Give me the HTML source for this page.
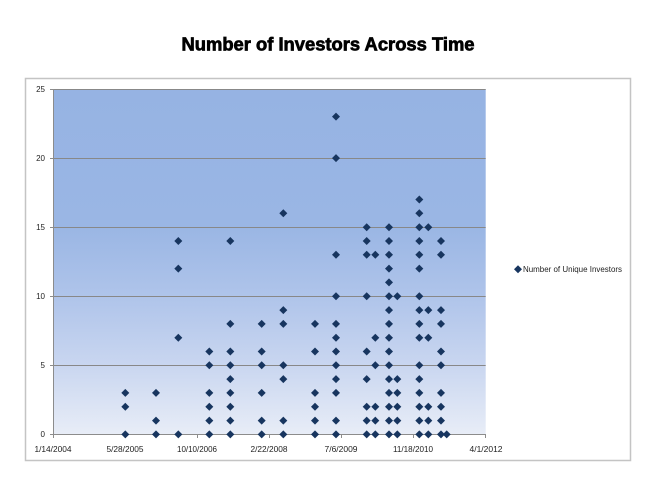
<!DOCTYPE html>
<html><head><meta charset="utf-8"><style>
html,body{margin:0;padding:0;background:#fff;}
svg{display:block;}
</style></head><body>
<svg width="656" height="479" viewBox="0 0 656 479" xmlns="http://www.w3.org/2000/svg">
<defs>
<linearGradient id="bg" x1="0" y1="0" x2="0" y2="1">
<stop offset="0" stop-color="#96B3E3"/>
<stop offset="0.4" stop-color="#9AB6E4"/>
<stop offset="0.6" stop-color="#AFC4EA"/>
<stop offset="0.8" stop-color="#C9D6F0"/>
<stop offset="1" stop-color="#E8EDF7"/>
</linearGradient>
<path id="m" d="M0,-4 L4,0 L0,4 L-4,0 Z" fill="#17355F"/>
</defs>
<rect x="0" y="0" width="656" height="479" fill="#fff"/>
<text x="328" y="50.5" text-anchor="middle" font-family="Liberation Sans, sans-serif" font-weight="bold" font-size="18" textLength="293" lengthAdjust="spacingAndGlyphs" fill="#000" stroke="#000" stroke-width="0.7">Number of Investors Across Time</text>
<rect x="25.5" y="78.5" width="605" height="382" fill="none" stroke="#C4C4C4" stroke-width="1.5"/>
<rect x="53" y="89" width="432.7" height="345.4" fill="url(#bg)"/>
<g stroke="#888" stroke-width="1">
<line x1="53" y1="89.5" x2="485.7" y2="89.5"/>
<line x1="53" y1="158.5" x2="485.7" y2="158.5"/>
<line x1="53" y1="227.5" x2="485.7" y2="227.5"/>
<line x1="53" y1="296.5" x2="485.7" y2="296.5"/>
<line x1="53" y1="365.5" x2="485.7" y2="365.5"/>
</g>
<g stroke="#8C8C8C" stroke-width="1">
<line x1="53.5" y1="89" x2="53.5" y2="435"/>
<line x1="50" y1="434.5" x2="486" y2="434.5"/>
<line x1="50" y1="89.5" x2="53" y2="89.5"/>
<line x1="50" y1="158.5" x2="53" y2="158.5"/>
<line x1="50" y1="227.5" x2="53" y2="227.5"/>
<line x1="50" y1="296.5" x2="53" y2="296.5"/>
<line x1="50" y1="365.5" x2="53" y2="365.5"/>
<line x1="53.5" y1="434" x2="53.5" y2="438"/>
<line x1="125.5" y1="434" x2="125.5" y2="438"/>
<line x1="197.5" y1="434" x2="197.5" y2="438"/>
<line x1="269.5" y1="434" x2="269.5" y2="438"/>
<line x1="341.5" y1="434" x2="341.5" y2="438"/>
<line x1="413.5" y1="434" x2="413.5" y2="438"/>
<line x1="485.5" y1="434" x2="485.5" y2="438"/>
</g>
<g font-family="Liberation Sans, sans-serif" font-size="8" fill="#222" text-anchor="end">
<text x="45" y="92">25</text>
<text x="45" y="161">20</text>
<text x="45" y="230">15</text>
<text x="45" y="299">10</text>
<text x="45" y="368">5</text>
<text x="45" y="437">0</text>
</g>
<g font-family="Liberation Sans, sans-serif" font-size="8" fill="#222" text-anchor="middle">
<text x="53" y="452" textLength="37" lengthAdjust="spacingAndGlyphs">1/14/2004</text>
<text x="125" y="452" textLength="37" lengthAdjust="spacingAndGlyphs">5/28/2005</text>
<text x="197" y="452" textLength="40" lengthAdjust="spacingAndGlyphs">10/10/2006</text>
<text x="269" y="452" textLength="37" lengthAdjust="spacingAndGlyphs">2/22/2008</text>
<text x="341" y="452" textLength="33" lengthAdjust="spacingAndGlyphs">7/6/2009</text>
<text x="413" y="452" textLength="40" lengthAdjust="spacingAndGlyphs">11/18/2010</text>
<text x="486" y="452" textLength="33" lengthAdjust="spacingAndGlyphs">4/1/2012</text>
</g>
<use href="#m" x="518" y="269.3"/>
<text x="523" y="272" font-family="Liberation Sans, sans-serif" font-size="8" fill="#222" textLength="99" lengthAdjust="spacingAndGlyphs">Number of Unique Investors</text>
<g>
<use href="#m" x="125.3" y="434.4"/><use href="#m" x="125.3" y="406.8"/><use href="#m" x="125.3" y="392.9"/>
<use href="#m" x="156" y="434.4"/><use href="#m" x="156" y="420.6"/><use href="#m" x="156" y="392.9"/>
<use href="#m" x="178.3" y="434.4"/><use href="#m" x="178.3" y="337.7"/><use href="#m" x="178.3" y="268.6"/><use href="#m" x="178.3" y="241"/>
<use href="#m" x="209.3" y="434.4"/><use href="#m" x="209.3" y="420.6"/><use href="#m" x="209.3" y="406.8"/><use href="#m" x="209.3" y="392.9"/><use href="#m" x="209.3" y="365.3"/><use href="#m" x="209.3" y="351.5"/>
<use href="#m" x="230.3" y="434.4"/><use href="#m" x="230.3" y="420.6"/><use href="#m" x="230.3" y="406.8"/><use href="#m" x="230.3" y="392.9"/><use href="#m" x="230.3" y="379.1"/><use href="#m" x="230.3" y="365.3"/><use href="#m" x="230.3" y="351.5"/><use href="#m" x="230.3" y="323.9"/><use href="#m" x="230.3" y="241"/>
<use href="#m" x="261.7" y="434.4"/><use href="#m" x="261.7" y="420.6"/><use href="#m" x="261.7" y="392.9"/><use href="#m" x="261.7" y="365.3"/><use href="#m" x="261.7" y="351.5"/><use href="#m" x="261.7" y="323.9"/>
<use href="#m" x="283.3" y="434.4"/><use href="#m" x="283.3" y="420.6"/><use href="#m" x="283.3" y="379.1"/><use href="#m" x="283.3" y="365.3"/><use href="#m" x="283.3" y="323.9"/><use href="#m" x="283.3" y="310.1"/><use href="#m" x="283.3" y="213.3"/>
<use href="#m" x="315" y="434.4"/><use href="#m" x="315" y="420.6"/><use href="#m" x="315" y="406.8"/><use href="#m" x="315" y="392.9"/><use href="#m" x="315" y="351.5"/><use href="#m" x="315" y="323.9"/>
<use href="#m" x="336" y="434.4"/><use href="#m" x="336" y="420.6"/><use href="#m" x="336" y="392.9"/><use href="#m" x="336" y="379.1"/><use href="#m" x="336" y="365.3"/><use href="#m" x="336" y="351.5"/><use href="#m" x="336" y="337.7"/><use href="#m" x="336" y="323.9"/><use href="#m" x="336" y="296.2"/><use href="#m" x="336" y="254.8"/><use href="#m" x="336" y="158.1"/><use href="#m" x="336" y="116.6"/>
<use href="#m" x="366.7" y="434.4"/><use href="#m" x="366.7" y="420.6"/><use href="#m" x="366.7" y="406.8"/><use href="#m" x="366.7" y="379.1"/><use href="#m" x="366.7" y="351.5"/><use href="#m" x="366.7" y="296.2"/><use href="#m" x="366.7" y="254.8"/><use href="#m" x="366.7" y="241"/><use href="#m" x="366.7" y="227.2"/>
<use href="#m" x="375.3" y="434.4"/><use href="#m" x="375.3" y="420.6"/><use href="#m" x="375.3" y="406.8"/><use href="#m" x="375.3" y="365.3"/><use href="#m" x="375.3" y="337.7"/><use href="#m" x="375.3" y="254.8"/>
<use href="#m" x="389" y="434.4"/><use href="#m" x="389" y="420.6"/><use href="#m" x="389" y="406.8"/><use href="#m" x="389" y="392.9"/><use href="#m" x="389" y="379.1"/><use href="#m" x="389" y="365.3"/><use href="#m" x="389" y="351.5"/><use href="#m" x="389" y="337.7"/><use href="#m" x="389" y="323.9"/><use href="#m" x="389" y="310.1"/><use href="#m" x="389" y="296.2"/><use href="#m" x="389" y="282.4"/><use href="#m" x="389" y="268.6"/><use href="#m" x="389" y="254.8"/><use href="#m" x="389" y="241"/><use href="#m" x="389" y="227.2"/>
<use href="#m" x="397.3" y="434.4"/><use href="#m" x="397.3" y="420.6"/><use href="#m" x="397.3" y="406.8"/><use href="#m" x="397.3" y="392.9"/><use href="#m" x="397.3" y="379.1"/><use href="#m" x="397.3" y="296.2"/>
<use href="#m" x="419.3" y="434.4"/><use href="#m" x="419.3" y="420.6"/><use href="#m" x="419.3" y="406.8"/><use href="#m" x="419.3" y="392.9"/><use href="#m" x="419.3" y="379.1"/><use href="#m" x="419.3" y="365.3"/><use href="#m" x="419.3" y="337.7"/><use href="#m" x="419.3" y="323.9"/><use href="#m" x="419.3" y="310.1"/><use href="#m" x="419.3" y="296.2"/><use href="#m" x="419.3" y="268.6"/><use href="#m" x="419.3" y="254.8"/><use href="#m" x="419.3" y="241"/><use href="#m" x="419.3" y="227.2"/><use href="#m" x="419.3" y="213.3"/><use href="#m" x="419.3" y="199.5"/>
<use href="#m" x="428.3" y="434.4"/><use href="#m" x="428.3" y="420.6"/><use href="#m" x="428.3" y="406.8"/><use href="#m" x="428.3" y="337.7"/><use href="#m" x="428.3" y="310.1"/><use href="#m" x="428.3" y="227.2"/>
<use href="#m" x="441" y="434.4"/><use href="#m" x="441" y="420.6"/><use href="#m" x="441" y="406.8"/><use href="#m" x="441" y="392.9"/><use href="#m" x="441" y="365.3"/><use href="#m" x="441" y="351.5"/><use href="#m" x="441" y="323.9"/><use href="#m" x="441" y="310.1"/><use href="#m" x="441" y="254.8"/><use href="#m" x="441" y="241"/>
<use href="#m" x="446.7" y="434.4"/>
</g>
</svg>
</body></html>
